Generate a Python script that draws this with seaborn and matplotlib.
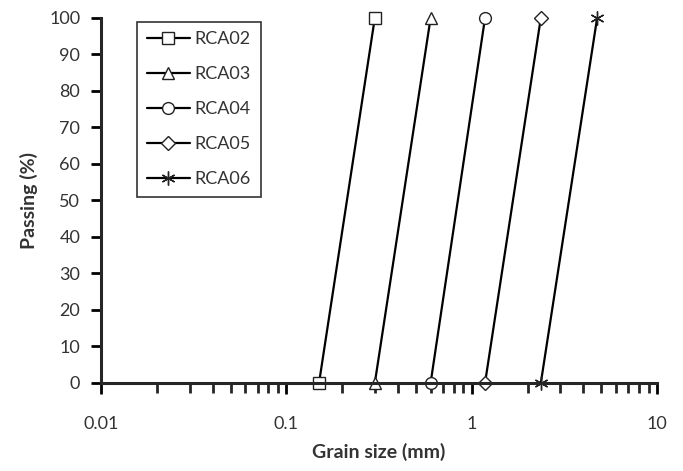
import numpy as np
import pandas as pd
import matplotlib
matplotlib.use("Agg")
import matplotlib.pyplot as plt
import seaborn as sns

# sieve sizes (mm) at 0 % and 100 % passing for each sample
samples = ["RCA02", "RCA03", "RCA04", "RCA05", "RCA06"]
size_at_0 = [0.15, 0.3, 0.6, 1.18, 2.36]
size_at_100 = [0.3, 0.6, 1.18, 2.36, 4.75]
passing = [0, 100]
markers = ["s", "^", "o", "D", (6, 2, 0)]
marker_sizes = [8, 8.5, 8.5, 7, 10]

rows = []
for name, lo, hi in zip(samples, size_at_0, size_at_100):
    rows.append({"sample": name, "size": lo, "passing": passing[0]})
    rows.append({"sample": name, "size": hi, "passing": passing[1]})
df = pd.DataFrame(rows)

sns.set_style("ticks")
plt.rcParams["font.family"] = ["Lato", "DejaVu Sans"]

fig = plt.figure(figsize=(6.83, 4.71), dpi=100)
ax = fig.add_axes([0.148, 0.187, 0.814, 0.775])

for name, m, ms in zip(samples, markers, marker_sizes):
    sub = df[df["sample"] == name]
    sns.lineplot(data=sub, x="size", y="passing", ax=ax, color="black",
                 marker=m, markersize=ms, markerfacecolor="white",
                 markeredgecolor="#222222", markeredgewidth=1.0,
                 linewidth=1.6, label=name, clip_on=False, sort=False)

ax.set_xscale("log")
ax.set_xlim(0.01, 10)
ax.set_ylim(0, 100)
ax.set_yticks(np.arange(0, 101, 10))
ax.set_xticks([0.01, 0.1, 1, 10])
ax.set_xticklabels(["0.01", "0.1", "1", "10"])

ax.spines["top"].set_visible(False)
ax.spines["right"].set_visible(False)
ax.spines["left"].set_linewidth(2.2)
ax.spines["bottom"].set_linewidth(2.2)
ax.tick_params(axis="y", which="major", direction="out", length=7, width=2,
               labelsize=13, colors="black", labelcolor="#333333", pad=8)
ax.tick_params(axis="x", which="major", direction="out", length=8, width=2,
               labelsize=13, colors="black", labelcolor="#333333", pad=16)
ax.tick_params(axis="x", which="minor", direction="out", length=7, width=2)

ax.set_xlabel("Grain size (mm)", fontsize=14, fontweight="bold",
              color="#333333", labelpad=8)
ax.set_ylabel("Passing (%)", fontsize=14, fontweight="bold",
              color="#333333", labelpad=8)

leg = ax.legend(loc="upper left", bbox_to_anchor=(0.064, 0.99), frameon=True,
                fancybox=False, edgecolor="black", fontsize=13,
                handlelength=2.4, handletextpad=0.25, labelspacing=1.05,
                borderpad=0.55, borderaxespad=0)
leg.get_frame().set_linewidth(1.2)
for t in leg.get_texts():
    t.set_color("#333333")

fig.savefig("out.png", dpi=100, facecolor="white")
